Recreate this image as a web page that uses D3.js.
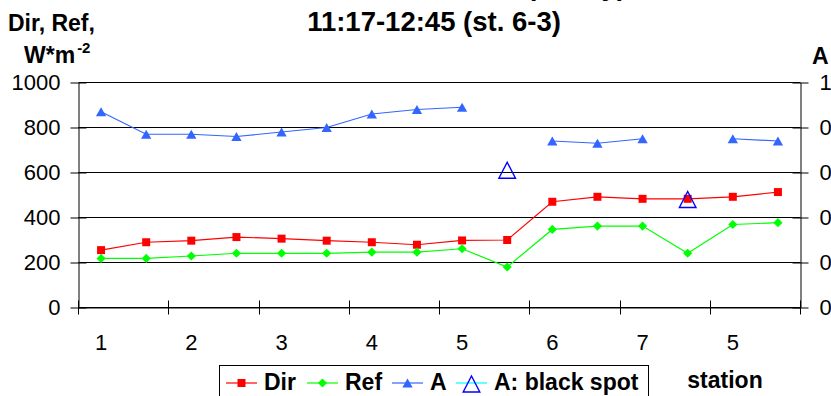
<!DOCTYPE html>
<html>
<head>
<meta charset="utf-8">
<script src="https://cdn.jsdelivr.net/npm/d3@7/dist/d3.min.js"></script>
<style>
  body { margin: 0; background: #fff; }
  svg { display: block; font-family: "Liberation Sans", Arial, sans-serif; }
</style>
</head>
<body>
<svg id="chart" width="831" height="396"></svg>
<script>
// Station labels (one label per pair of measurement points)
const stationLabels = ["1", "2", "3", "4", "5", "6", "7", "5"];
const pointCount = 16;

// Direct and reflected radiation, W*m^-2
const dir = [255, 290, 297, 313, 306, 297, 290, 279, 298, 300, 470, 492, 483, 483, 492, 513];
const ref = [218, 218, 229, 241, 241, 241, 246, 246, 261, 180, 347, 362, 362, 241, 369, 377];
// Albedo on clean surface and on black spots
const albedo = [0.87, 0.77, 0.77, 0.76, 0.78, 0.80, 0.86, 0.88, 0.89, null, 0.74, 0.73, 0.75, null, 0.75, 0.74];
const blackSpot = [null, null, null, null, null, null, null, null, null, 0.61, null, null, null, 0.48, null, null];

const fluxTicks = [0, 200, 400, 600, 800, 1000];
const albedoTicks = [0, 0.2, 0.4, 0.6, 0.8, 1];

const svg = d3.select("#chart");
const plotLeft = 78.5, plotRight = 800.5, plotTop = 82.5, plotBottom = 307.5;

const x = d3.scaleBand().domain(d3.range(pointCount)).range([plotLeft, plotRight]);
const cx = i => x(i) + x.bandwidth() / 2;
const yL = d3.scaleLinear().domain([0, 1000]).range([plotBottom, plotTop]);
const yR = d3.scaleLinear().domain([0, 1]).range([plotBottom, plotTop]);

// Title (first line runs above the visible area)
svg.append("text").attr("x", 434).attr("y", -5).attr("text-anchor", "middle")
  .attr("font-size", 27.5).attr("font-weight", "bold").text("Dir, Ref, A: 07.07.2003 (sunny),");
svg.append("text").attr("x", 434).attr("y", 31).attr("text-anchor", "middle")
  .attr("font-size", 27.5).attr("font-weight", "bold").text("11:17-12:45 (st. 6-3)");

// Axis titles
svg.append("text").attr("x", 8).attr("y", 31).attr("font-size", 23).attr("font-weight", "bold").text("Dir, Ref,");
const unit = svg.append("text").attr("x", 24).attr("y", 63).attr("font-size", 23).attr("font-weight", "bold");
unit.append("tspan").text("W*m");
unit.append("tspan").attr("dx", 2).attr("dy", -10).attr("font-size", 15).text("-2");
svg.append("text").attr("x", 812).attr("y", 64).attr("font-size", 23).attr("font-weight", "bold").text("A");
svg.append("text").attr("x", 725).attr("y", 388).attr("text-anchor", "middle")
  .attr("font-size", 23).attr("font-weight", "bold").text("station");

// Horizontal gridlines
svg.append("g").selectAll("line").data(fluxTicks).join("line")
  .attr("x1", plotLeft).attr("x2", plotRight)
  .attr("y1", d => yL(d)).attr("y2", d => yL(d))
  .attr("stroke", "#000").attr("stroke-width", 1);

// Left axis
svg.append("g").attr("transform", `translate(${plotLeft},0)`)
  .call(d3.axisLeft(yL).tickValues(fluxTicks).tickFormat(d3.format("d"))
    .tickSize(8).tickSizeOuter(0).tickPadding(10))
  .call(g => g.selectAll(".tick line").attr("x1", 8))
  .call(g => g.selectAll("text").attr("font-size", 22).attr("fill", "#000"))
  .call(g => g.attr("font-family", null));

// Right axis
svg.append("g").attr("transform", `translate(${plotRight},0)`)
  .call(d3.axisRight(yR).tickValues(albedoTicks).tickFormat(d3.format("~g"))
    .tickSize(8).tickSizeOuter(0).tickPadding(11))
  .call(g => g.selectAll(".tick line").attr("x1", -8))
  .call(g => g.selectAll("text").attr("font-size", 22).attr("fill", "#000"))
  .call(g => g.attr("font-family", null));

// Bottom axis: labels on every other point, tick marks on pair boundaries
const bottomAxis = svg.append("g").attr("transform", `translate(0,${plotBottom})`)
  .call(d3.axisBottom(x).tickValues(d3.range(0, pointCount, 2))
    .tickFormat(i => stationLabels[i / 2]).tickSize(0).tickPadding(27))
  .call(g => g.selectAll("text").attr("font-size", 22).attr("fill", "#000"))
  .call(g => g.attr("font-family", null));
const boundaries = d3.range(0, pointCount, 2).map(i => x(i)).concat([plotRight]);
bottomAxis.append("g").selectAll("line").data(boundaries).join("line")
  .attr("x1", d => Math.round(d - 0.5) + 0.5).attr("x2", d => Math.round(d - 0.5) + 0.5)
  .attr("y1", -7).attr("y2", 7).attr("stroke", "#000");

// Series lines
const lineL = d3.line().defined(d => d != null).x((d, i) => cx(i)).y(d => yL(d));
const lineR = d3.line().defined(d => d != null).x((d, i) => cx(i)).y(d => yR(d));

const dirColor = "#ff0000", refColor = "#00ff00", aColor = "#3366ff", spotColor = "#0000ff";

svg.append("path").attr("d", lineL(dir)).attr("fill", "none").attr("stroke", dirColor).attr("stroke-width", 1.2);
svg.append("g").selectAll("path").data(dir).join("path")
  .attr("d", d3.symbol(d3.symbolSquare, 64))
  .attr("transform", (d, i) => `translate(${cx(i)},${yL(d)})`)
  .attr("fill", dirColor);

svg.append("path").attr("d", lineL(ref)).attr("fill", "none").attr("stroke", refColor).attr("stroke-width", 1.2);
svg.append("g").selectAll("path").data(ref).join("path")
  .attr("d", d3.symbol(d3.symbolSquare, 42))
  .attr("transform", (d, i) => `translate(${cx(i)},${yL(d)}) rotate(45)`)
  .attr("fill", refColor);

svg.append("path").attr("d", lineR(albedo)).attr("fill", "none").attr("stroke", aColor).attr("stroke-width", 1.2);
const triShift = 1.4;
svg.append("g").selectAll("path").data(albedo.map((v, i) => ({ v, i })).filter(d => d.v != null)).join("path")
  .attr("d", d3.symbol(d3.symbolTriangle, 46))
  .attr("transform", d => `translate(${cx(d.i)},${yR(d.v) + triShift})`)
  .attr("fill", aColor);

// Open triangle outline for black-spot albedo
const openTri = "M0,-8L8.3,8L-8.3,8Z";
svg.append("g").selectAll("path").data(blackSpot.map((v, i) => ({ v, i })).filter(d => d.v != null)).join("path")
  .attr("d", openTri)
  .attr("transform", d => `translate(${cx(d.i)},${yR(d.v)})`)
  .attr("fill", "none").attr("stroke", spotColor).attr("stroke-width", 1.4);

// Legend
const legend = svg.append("g");
legend.append("rect").attr("x", 219.5).attr("y", 365.5).attr("width", 429).attr("height", 40)
  .attr("fill", "#fff").attr("stroke", "#000");
const items = [
  { label: "Dir", color: dirColor, x0: 226, tx: 264, marker: "square" },
  { label: "Ref", color: refColor, x0: 307, tx: 345, marker: "diamond" },
  { label: "A", color: aColor, x0: 392, tx: 430, marker: "triangle" },
  { label: "A: black spot", color: "#00ffff", x0: 456, tx: 494, marker: "open" }
];
const ly = 383;
items.forEach(it => {
  legend.append("line").attr("x1", it.x0).attr("x2", it.x0 + 31).attr("y1", ly).attr("y2", ly)
    .attr("stroke", it.color).attr("stroke-width", 1.2);
  const mx = it.x0 + 15.5;
  if (it.marker === "square") {
    legend.append("path").attr("d", d3.symbol(d3.symbolSquare, 64)).attr("transform", `translate(${mx},${ly})`).attr("fill", it.color);
  } else if (it.marker === "diamond") {
    legend.append("path").attr("d", d3.symbol(d3.symbolSquare, 42)).attr("transform", `translate(${mx},${ly}) rotate(45)`).attr("fill", it.color);
  } else if (it.marker === "triangle") {
    legend.append("path").attr("d", d3.symbol(d3.symbolTriangle, 46)).attr("transform", `translate(${mx},${ly + triShift})`).attr("fill", it.color);
  } else {
    legend.append("path").attr("d", openTri).attr("transform", `translate(${mx},${ly + 1})`)
      .attr("fill", "none").attr("stroke", spotColor).attr("stroke-width", 1.4);
  }
  legend.append("text").attr("x", it.tx).attr("y", 390).attr("font-size", 23).attr("font-weight", "bold").text(it.label);
});
</script>
</body>
</html>
